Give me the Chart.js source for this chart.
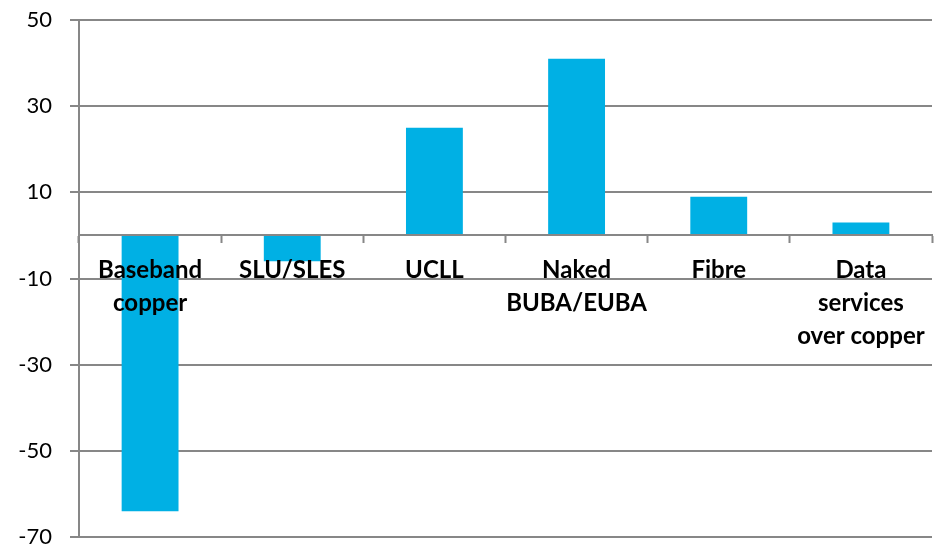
<!DOCTYPE html>
<html>
<head>
<meta charset="utf-8">
<script src="https://cdn.jsdelivr.net/npm/chart.js@4"></script>
<style>
  html, body { margin: 0; padding: 0; background: #fff; }
  #wrap { width: 934px; height: 546px; }
</style>
</head>
<body>
<div id="wrap"><canvas id="myChart"></canvas></div>
<script>
let categories = [
  ["Baseband", "copper"],
  "SLU/SLES",
  "UCLL",
  ["Naked", "BUBA/EUBA"],
  "Fibre",
  ["Data", "services", "over copper"]
];
let values = [-64, -6, 25, 41, 9, 3];
let yMin = -70;
let yMax = 50;
let yStep = 20;

let gray = "#878787";

new Chart(document.getElementById("myChart"), {
  type: "bar",
  data: {
    labels: categories,
    datasets: [{
      data: values,
      backgroundColor: "#00B0E4",
      categoryPercentage: 1,
      barPercentage: 0.4
    }]
  },
  options: {
    responsive: true,
    maintainAspectRatio: false,
    animation: false,
    layout: { padding: { top: 20, right: 2, bottom: 9, left: 0 } },
    plugins: {
      legend: { display: false },
      tooltip: { enabled: false }
    },
    scales: {
      x: {
        // category axis sits on the zero line, labels drawn over the bars
        position: { y: 0 },
        afterFit: s => {
          s.height = 0;
          s.paddingLeft = 0;
          s.paddingRight = 0;
        },
        grid: {
          offset: true,
          drawOnChartArea: false,
          tickLength: 7,
          tickColor: gray,
          tickWidth: 2,
          z: 1
        },
        border: { color: gray, width: 2, z: 1 },
        ticks: {
          color: "#000",
          padding: 11,
          maxRotation: 0,
          autoSkip: false,
          z: 1,
          font: { family: "Lato", size: 24, weight: "bold", lineHeight: 1.375 }
        }
      },
      y: {
        min: yMin,
        max: yMax,
        afterFit: s => {
          s.width = 79;
          s.paddingTop = 0;
          s.paddingBottom = 0;
        },
        grid: {
          color: gray,
          lineWidth: 2,
          tickLength: 9
        },
        border: { color: gray, width: 2 },
        ticks: {
          stepSize: yStep,
          color: "#000",
          padding: 18,
          font: { family: "Lato", size: 22 }
        }
      }
    }
  }
});
</script>
</body>
</html>
